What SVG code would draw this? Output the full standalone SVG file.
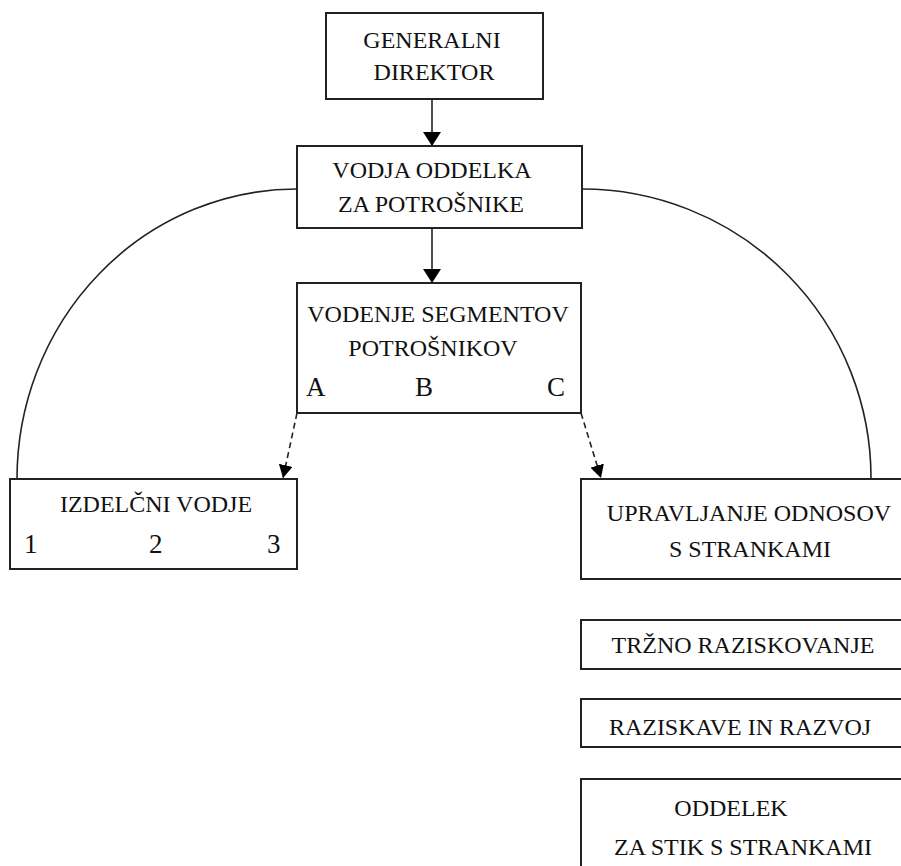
<svg xmlns="http://www.w3.org/2000/svg" width="901" height="866" viewBox="0 0 901 866">
<style>
.box{fill:#fff;stroke:#222;stroke-width:2}
text{font-family:'Liberation Serif','DejaVu Serif',serif;fill:#111}
.t{font-size:24px;text-anchor:middle}
.l{font-size:27px}
.c{fill:none;stroke:#222;stroke-width:1.6}
.d{fill:none;stroke:#222;stroke-width:1.6;stroke-dasharray:6 4}
</style>
<defs>
<marker id="ah" markerUnits="userSpaceOnUse" markerWidth="14" markerHeight="18" refX="14" refY="9" orient="auto"><path d="M0,0 L14,9 L0,18 z" fill="#000"/></marker>
<marker id="ahs" markerUnits="userSpaceOnUse" markerWidth="13" markerHeight="14" refX="13" refY="7" orient="auto"><path d="M0,0 L13,7 L0,14 z" fill="#000"/></marker>
</defs>
<g id="connectors">
<path class="c" d="M297,189 A280,290 0 0 0 17,479"/>
<path class="c" d="M582,189 A289,289 0 0 1 871,479"/>
<line class="c" x1="432" y1="99" x2="432" y2="146" marker-end="url(#ah)"/>
<line class="c" x1="432" y1="228" x2="432" y2="283" marker-end="url(#ah)"/>
<line class="d" x1="297" y1="413" x2="283" y2="478" marker-end="url(#ahs)"/>
<line class="d" x1="581" y1="413" x2="601" y2="478" marker-end="url(#ahs)"/>
</g>
<g id="generalni-direktor">
<rect class="box" x="326" y="13" width="217" height="86"/>
<text class="t" x="432" y="48" font-family="Liberation Serif">GENERALNI</text>
<text class="t" x="434" y="80">DIREKTOR</text>
</g>
<g id="vodja-oddelka">
<rect class="box" x="297" y="146" width="285" height="82"/>
<text class="t" x="432" y="178">VODJA ODDELKA</text>
<text class="t" x="431" y="212">ZA POTROŠNIKE</text>
</g>
<g id="vodenje-segmentov">
<rect class="box" x="297" y="283" width="284" height="130"/>
<text class="t" x="438" y="322">VODENJE SEGMENTOV</text>
<text class="t" x="433" y="356">POTROŠNIKOV</text>
<text class="l" x="306" y="396">A</text>
<text class="l" x="415" y="396">B</text>
<text class="l" x="547" y="396">C</text>
</g>
<g id="izdelcni-vodje">
<rect class="box" x="10" y="479" width="287" height="90"/>
<text class="t" x="156" y="512">IZDELČNI VODJE</text>
<text class="l" x="24" y="553">1</text>
<text class="l" x="149" y="553">2</text>
<text class="l" x="267" y="553">3</text>
</g>
<g id="upravljanje-odnosov">
<rect class="box" x="581" y="479" width="340" height="100"/>
<text class="t" x="749" y="521">UPRAVLJANJE ODNOSOV</text>
<text class="t" x="750" y="557">S STRANKAMI</text>
</g>
<g id="trzno-raziskovanje">
<rect class="box" x="581" y="620" width="340" height="49"/>
<text class="t" x="743" y="653">TRŽNO RAZISKOVANJE</text>
</g>
<g id="raziskave-in-razvoj">
<rect class="box" x="581" y="699" width="340" height="48"/>
<text class="t" x="740" y="735">RAZISKAVE IN RAZVOJ</text>
</g>
<g id="oddelek-za-stik">
<rect class="box" x="581" y="779" width="340" height="110"/>
<text class="t" x="731" y="816">ODDELEK</text>
<text class="t" x="743" y="855">ZA STIK S STRANKAMI</text>
</g>
</svg>
